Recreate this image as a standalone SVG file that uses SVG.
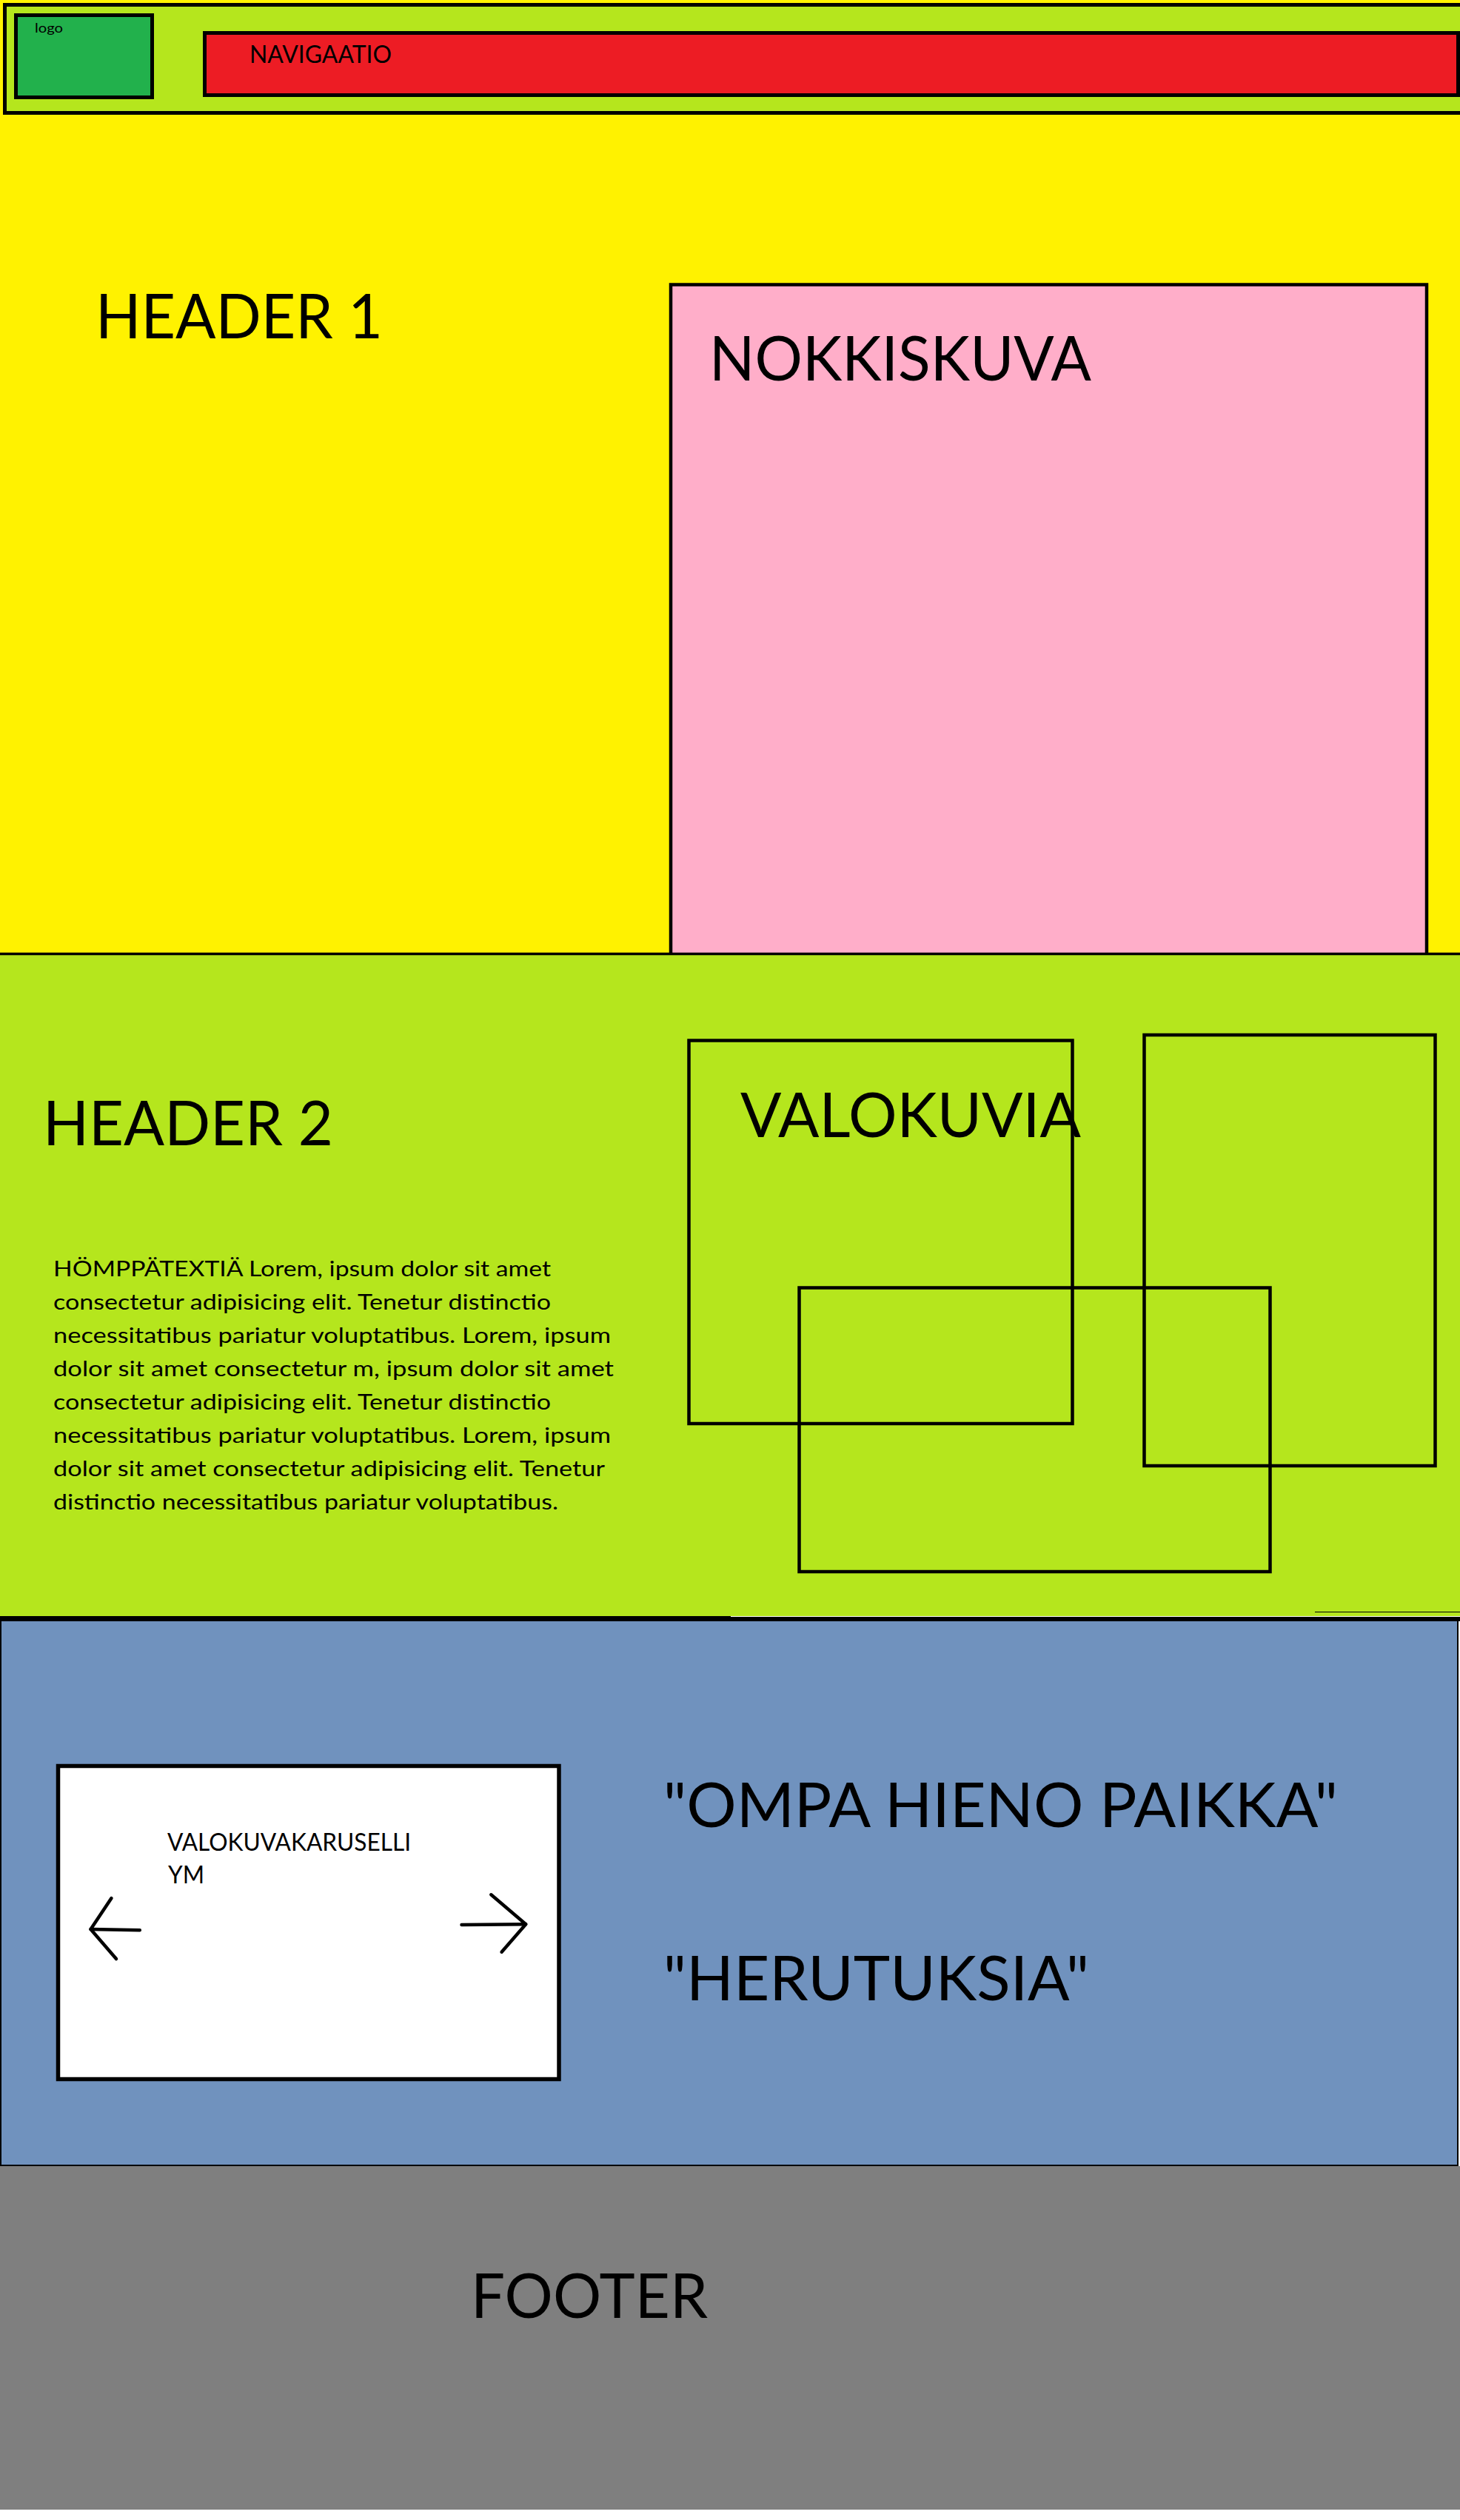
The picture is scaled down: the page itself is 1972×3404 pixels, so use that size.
<svg xmlns="http://www.w3.org/2000/svg" width="1972" height="3404" viewBox="0 0 1972 3404">
  <style>
    .t { font-family: Lato, "Open Sans", "Liberation Sans", sans-serif; fill: #000; }
    .big { font-size: 84px; }
    .mid { font-size: 32px; }
    .body { font-size: 29px; }
    .box { stroke: #000; stroke-width: 5; }
    .frame { fill: none; stroke: #000; stroke-width: 4.5; }
    .arrow { fill: none; stroke: #000; stroke-width: 4.5; stroke-linecap: round; stroke-linejoin: round; }
  </style>

  <!-- page background -->
  <rect x="0" y="0" width="1972" height="3404" fill="#ffffff"/>

  <!-- hero section (yellow) -->
  <g id="hero">
    <rect x="0" y="0" width="1972" height="1289" fill="#fff200"/>
    <text class="t big" x="129" y="457" textLength="388" lengthAdjust="spacingAndGlyphs">HEADER 1</text>
  </g>

  <!-- top bar with logo and navigation -->
  <g id="topbar">
    <rect class="box" x="6.5" y="6.5" width="1980" height="146" fill="#b5e61d"/>
  </g>
  <g id="logo">
    <rect class="box" x="21.5" y="20.5" width="184" height="111" fill="#22b14c"/>
    <text class="t" font-size="18" x="47" y="44" textLength="38" lengthAdjust="spacingAndGlyphs">logo</text>
  </g>
  <g id="navigation">
    <rect class="box" x="276.5" y="44.5" width="1693" height="84" fill="#ed1c24"/>
    <text class="t mid" x="337" y="85" textLength="192" lengthAdjust="spacingAndGlyphs">NAVIGAATIO</text>
  </g>

  <!-- hero image placeholder -->
  <g id="nokkiskuva">
    <rect x="906" y="384.5" width="1021" height="905" fill="#ffaec9" stroke="#000" stroke-width="4.5"/>
    <text class="t big" x="958" y="514" textLength="516" lengthAdjust="spacingAndGlyphs">NOKKISKUVA</text>
  </g>

  <!-- second section (lime) -->
  <g id="section2">
    <rect x="0" y="1289" width="1972" height="895" fill="#b5e61d"/>
    <line x1="0" y1="1288.5" x2="1972" y2="1288.5" stroke="#000" stroke-width="3.5"/>
    <text class="t big" x="58" y="1547" textLength="392" lengthAdjust="spacingAndGlyphs">HEADER 2</text>
    <g class="t body">
      <text x="72" y="1724" textLength="672" lengthAdjust="spacingAndGlyphs">HÖMPPÄTEXTIÄ Lorem, ipsum dolor sit amet</text>
      <text x="72" y="1769" textLength="672" lengthAdjust="spacingAndGlyphs">consectetur adipisicing elit. Tenetur distinctio</text>
      <text x="72" y="1814" textLength="753" lengthAdjust="spacingAndGlyphs">necessitatibus pariatur voluptatibus. Lorem, ipsum</text>
      <text x="72" y="1859" textLength="757" lengthAdjust="spacingAndGlyphs">dolor sit amet consectetur m, ipsum dolor sit amet</text>
      <text x="72" y="1904" textLength="672" lengthAdjust="spacingAndGlyphs">consectetur adipisicing elit. Tenetur distinctio</text>
      <text x="72" y="1949" textLength="753" lengthAdjust="spacingAndGlyphs">necessitatibus pariatur voluptatibus. Lorem, ipsum</text>
      <text x="72" y="1994" textLength="745" lengthAdjust="spacingAndGlyphs">dolor sit amet consectetur adipisicing elit. Tenetur</text>
      <text x="72" y="2039" textLength="682" lengthAdjust="spacingAndGlyphs">distinctio necessitatibus pariatur voluptatibus.</text>
    </g>
  </g>

  <!-- photo placeholders -->
  <g id="valokuvia">
    <rect class="frame" x="930.5" y="1405.5" width="518" height="517.5"/>
    <rect class="frame" x="1545.5" y="1398" width="393" height="582"/>
    <rect class="frame" x="1079.5" y="1739.5" width="636" height="383.5"/>
    <text class="t big" x="1000" y="1536" textLength="460" lengthAdjust="spacingAndGlyphs">VALOKUVIA</text>
  </g>

  <!-- divider between lime and blue sections -->
  <g id="divider">
    <rect x="0" y="2183" width="1972" height="7" fill="#000"/>
    <line x1="987" y1="2183.5" x2="1972" y2="2183.5" stroke="#fff" stroke-width="1"/>
    <line x1="1776" y1="2177.5" x2="1972" y2="2177.5" stroke="#000" stroke-width="1.2"/>
  </g>

  <!-- third section (blue) -->
  <g id="section3">
    <rect x="1" y="2189" width="1968" height="736" fill="#7092be" stroke="#000" stroke-width="2"/>
  </g>

  <!-- photo carousel -->
  <g id="carousel">
    <rect x="78.5" y="2385.5" width="676.5" height="423" fill="#fff" stroke="#000" stroke-width="5.5"/>
    <text class="t mid" x="226" y="2500" textLength="329" lengthAdjust="spacingAndGlyphs">VALOKUVAKARUSELLI</text>
    <text class="t mid" x="227" y="2544" textLength="49" lengthAdjust="spacingAndGlyphs">YM</text>
    <polyline class="arrow" points="150.5,2564 122.5,2606 157,2646"/>
    <line class="arrow" x1="122.5" y1="2606" x2="188.8" y2="2607.3"/>
    <polyline class="arrow" points="663.3,2559.3 710.2,2599.3 677.6,2636.7"/>
    <line class="arrow" x1="623.5" y1="2600" x2="710.2" y2="2599.3"/>
  </g>

  <!-- quotes -->
  <g id="quotes">
    <text class="t big" x="896" y="2468" textLength="911" lengthAdjust="spacingAndGlyphs">"OMPA HIENO PAIKKA"</text>
    <text class="t big" x="896" y="2702" textLength="575" lengthAdjust="spacingAndGlyphs">"HERUTUKSIA"</text>
  </g>

  <!-- footer (gray) -->
  <g id="footer">
    <rect x="0" y="2926" width="1972" height="464" fill="#7f7f7f"/>
    <text class="t big" x="636" y="3131" textLength="320" lengthAdjust="spacingAndGlyphs">FOOTER</text>
  </g>
</svg>
